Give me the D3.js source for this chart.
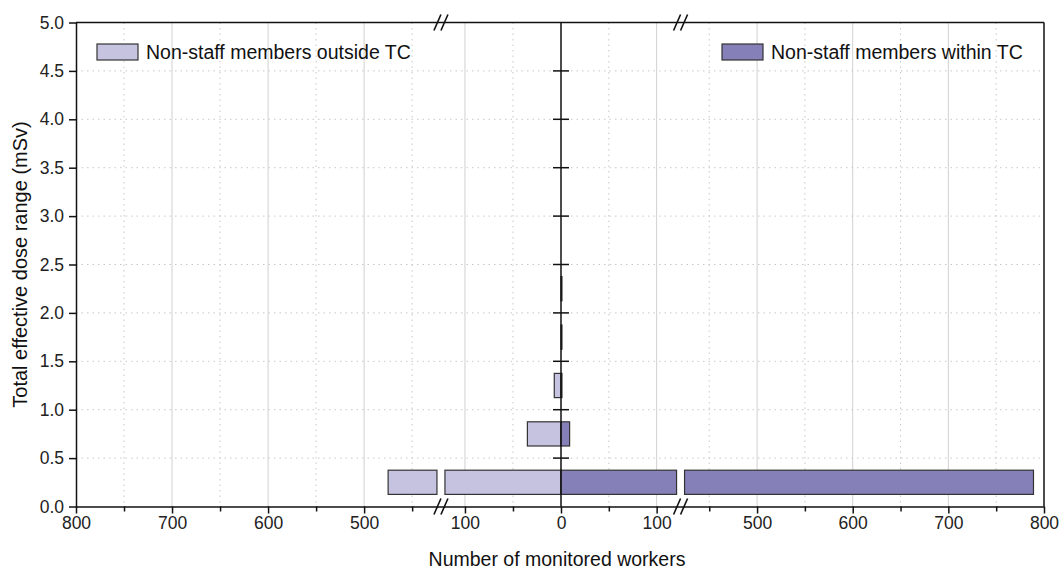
<!DOCTYPE html>
<html>
<head>
<meta charset="utf-8">
<script src="https://cdn.jsdelivr.net/npm/d3@7"></script>
<style>
  body { margin: 0; background: #fff; }
  svg { font-family: "Liberation Sans", Arial, sans-serif; }
</style>
</head>
<body>
<svg width="1059" height="569"></svg>
<script>
// dose bins (centre of each 0.5 mSv range)
const binCentres = [0.25, 0.75, 1.25, 1.75, 2.25];
const outsideTC = [475, 35, 7, 0, 0];
const withinTC = [789, 9, 1, 1, 1];

const yTicks = [0, 0.5, 1, 1.5, 2, 2.5, 3, 3.5, 4, 4.5, 5];
const xMajor = [-800, -700, -600, -500, -100, 0, 100, 500, 600, 700, 800];
const xMinor = [-750, -650, -550, -450, -50, 50, 450, 550, 650, 750];
const breakLo = 125, breakHi = 420;

const svg = d3.select("svg");
const plotL = 76, plotR = 1044, plotT = 22.5, plotB = 506.5, mid = 561;

// broken axis: the range 125..420 is squeezed to one pixel on each side
const bl = mid - breakLo * (mid - plotL) / (800 - breakHi + breakLo);
const br = mid + breakLo * (plotR - mid) / (800 - breakHi + breakLo);
const x = d3.scaleLinear()
  .domain([-800, -breakHi, -breakLo, 0, breakLo, breakHi, 800])
  .range([plotL, bl, bl, mid, br, br, plotR]);

const y = d3.scaleLinear().domain([0, 5]).range([plotB, plotT]);

const light = "#c6c3e1", dark = "#8580b8", edge = "#333";

// grid
svg.append("g").selectAll("line")
  .data(xMajor.filter(d => Math.abs(d) != 800 && d != 0))
  .enter().append("line")
  .attr("x1", d => x(d)).attr("x2", d => x(d))
  .attr("y1", plotT).attr("y2", plotB)
  .attr("stroke", "#d0d0d0").attr("stroke-width", 1);

svg.append("g").selectAll("line")
  .data(xMinor)
  .enter().append("line")
  .attr("x1", d => x(d)).attr("x2", d => x(d))
  .attr("y1", plotT).attr("y2", plotB)
  .attr("stroke", "#c8c8c8").attr("stroke-dasharray", "1.5,4");

svg.append("g").selectAll("line")
  .data(yTicks.filter(d => d > 0 && d < 5))
  .enter().append("line")
  .attr("x1", plotL).attr("x2", plotR)
  .attr("y1", d => y(d)).attr("y2", d => y(d))
  .attr("stroke", "#c8c8c8").attr("stroke-dasharray", "1.5,4");

// bars, split at the break with a small white gap
const barH = y(0) - y(0.25);
const gap = 4;
function drawBar(v, c, sign, fill) {
  const y0 = y(c) - barH / 2;
  let pieces = [];
  if (v > breakLo) {
    pieces.push([x(0), x(sign * breakLo) - sign * gap]);
    pieces.push([x(sign * breakHi) + sign * gap, x(sign * v)]);
  } else {
    pieces.push([x(0), x(sign * v)]);
  }
  pieces.forEach(p => {
    svg.append("rect")
      .attr("x", Math.min(p[0], p[1]))
      .attr("y", y0)
      .attr("width", Math.abs(p[1] - p[0]))
      .attr("height", barH)
      .attr("fill", fill)
      .attr("stroke", edge)
      .attr("stroke-width", 1.2);
  });
}
binCentres.forEach((c, i) => {
  if (outsideTC[i] > 0) drawBar(outsideTC[i], c, -1, light);
  if (withinTC[i] > 0) drawBar(withinTC[i], c, 1, dark);
});

// axes
const fmt = d => Math.abs(d);
const xAxis = svg.append("g")
  .attr("transform", `translate(0,${plotB})`)
  .call(d3.axisBottom(x).tickValues(xMajor).tickFormat(fmt).tickSize(7).tickSizeOuter(0).tickPadding(3));
svg.append("g")
  .attr("transform", `translate(0,${plotB})`)
  .call(d3.axisBottom(x).tickValues(xMinor).tickFormat("").tickSize(5).tickSizeOuter(0))
  .attr("class", "minor")
  .select(".domain").remove();

const yAxis = svg.append("g")
  .attr("transform", `translate(${plotL},0)`)
  .call(d3.axisLeft(y).tickValues(yTicks).tickFormat(d3.format(".1f")).tickSize(7).tickSizeOuter(0).tickPadding(5));

svg.selectAll(".minor line").attr("stroke", "#111").attr("stroke-width", 1.5);
[xAxis, yAxis].forEach(a => {
  a.selectAll("text").attr("font-size", 17.5).attr("fill", "#222").attr("font-family", "Liberation Sans, Arial, sans-serif");
  a.selectAll("line, path").attr("stroke", "#111").attr("stroke-width", 1.5);
});

// top and right frame
svg.append("line").attr("x1", plotL).attr("x2", plotR).attr("y1", plotT).attr("y2", plotT)
  .attr("stroke", "#111").attr("stroke-width", 1.5);
svg.append("line").attr("x1", plotR).attr("x2", plotR).attr("y1", plotT).attr("y2", plotB)
  .attr("stroke", "#111").attr("stroke-width", 1.5);

// zero line with crossing ticks
svg.append("line").attr("x1", mid).attr("x2", mid).attr("y1", plotT).attr("y2", plotB)
  .attr("stroke", "#111").attr("stroke-width", 1.5);
svg.append("g").selectAll("line")
  .data(yTicks.filter(d => d > 0 && d < 5))
  .enter().append("line")
  .attr("x1", mid - 8).attr("x2", mid + 8)
  .attr("y1", d => y(d)).attr("y2", d => y(d))
  .attr("stroke", "#111").attr("stroke-width", 1.5);

// break marks
[bl, br].forEach(bx => {
  [plotT, plotB].forEach(by => {
    [-3.5, 3.5].forEach(dx => {
      svg.append("line")
        .attr("x1", bx + dx - 3.5).attr("x2", bx + dx + 3.5)
        .attr("y1", by + 8).attr("y2", by - 8)
        .attr("stroke", "#111").attr("stroke-width", 1.6);
    });
  });
});

// legend
const legend = [
  { label: "Non-staff members outside TC", fill: light, x: 97 },
  { label: "Non-staff members within TC", fill: dark, x: 722 }
];
legend.forEach(l => {
  svg.append("rect").attr("x", l.x).attr("y", 44).attr("width", 41).attr("height", 16)
    .attr("fill", l.fill).attr("stroke", edge).attr("stroke-width", 1.2);
  svg.append("text").attr("x", l.x + 49).attr("y", 59)
    .attr("font-size", 19.5).attr("fill", "#111").text(l.label);
});

// axis titles
svg.append("text").attr("x", mid - 4).attr("y", 566)
  .attr("text-anchor", "middle").attr("font-size", 19.5).attr("fill", "#111")
  .text("Number of monitored workers");
svg.append("text")
  .attr("transform", `translate(27,${(plotT + plotB) / 2}) rotate(-90)`)
  .attr("text-anchor", "middle").attr("font-size", 20).attr("fill", "#111")
  .text("Total effective dose range (mSv)");
</script>
</body>
</html>
